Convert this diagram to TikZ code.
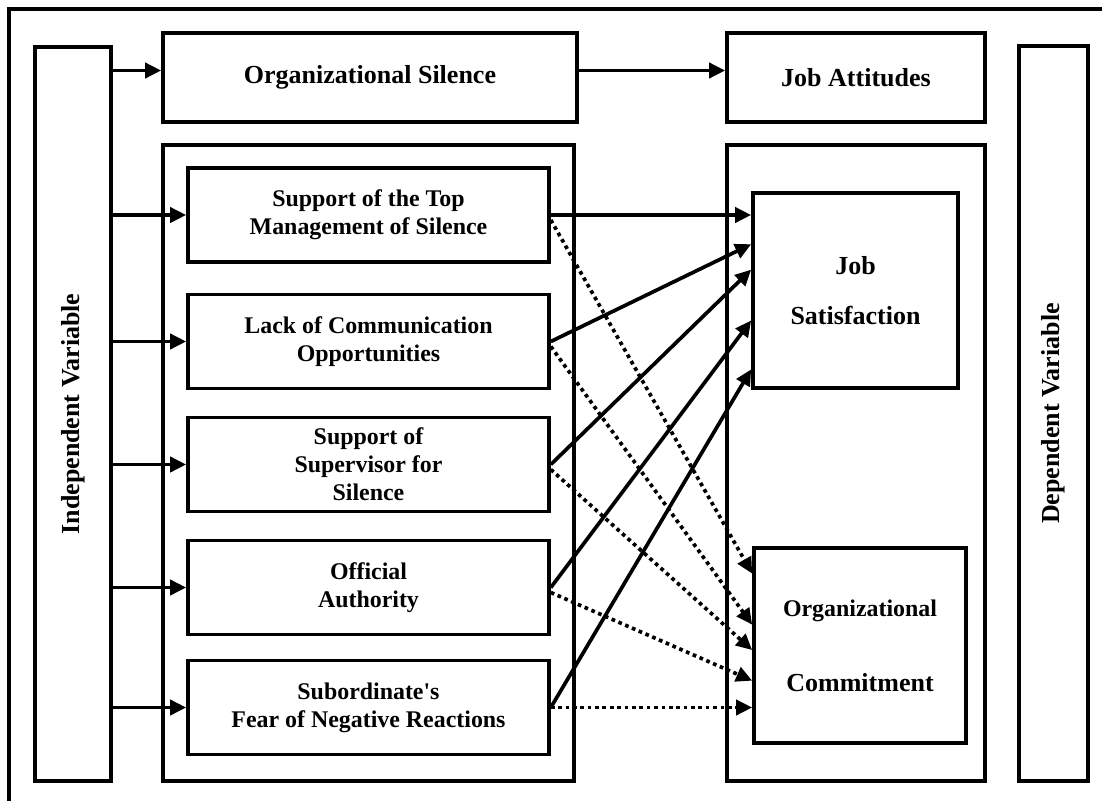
\documentclass[tikz,border=0pt]{standalone}
\usepackage{fontspec}
\setmainfont{Liberation Serif}
\usetikzlibrary{arrows.meta,calc}
\tikzset{
  box/.style={draw,line width=2.1pt,align=center,inner sep=2pt},
  headbox/.style={box,font=\bfseries\fontsize{14.8}{17}\selectfont},
  groupbox/.style={box,minimum height=12.72cm},
  factorbox/.style={box,minimum width=7.22cm,minimum height=1.88cm,
    font=\bfseries\fontsize{13.6}{15.9}\selectfont},
  outcomebox/.style={box,minimum height=3.9cm,
    font=\bfseries\fontsize{14.8}{17}\selectfont},
  arrow/.style={-{Triangle[length=0.32cm,width=0.3cm]},line width=2.1pt},
  dotarrow/.style={arrow,dash pattern=on 2.1pt off 2.1pt}
}

\begin{document}
\begin{tikzpicture}[x=0.02cm,y=-0.02cm]
  \useasboundingbox (0,0) rectangle (1102,801);
  % open frame
  \draw[line width=2.1pt] (1102,9) -- (9,9) -- (9,801);

  % side columns
  \node[box,minimum width=1.52cm,minimum height=14.68cm] (iv) at (73,414) {};
  \node[headbox,draw=none,rotate=90] (ivlabel) at (iv) {Independent Variable};
  \node[box,minimum width=1.38cm,minimum height=14.7cm] (dv) at (1053.5,413.5) {};
  \node[headbox,draw=none,rotate=90] (dvlabel) at (dv) {Dependent Variable};

  % headings
  \node[headbox,minimum width=8.28cm,minimum height=1.78cm] (silence) at (370,77.5)
    {Organizational Silence};
  \node[headbox,minimum width=5.16cm,minimum height=1.78cm] (attitudes) at (856,77.5)
    {Job Attitudes};

  % groups
  \node[groupbox,minimum width=8.22cm] (causes) at (368.5,463) {};
  \node[groupbox,minimum width=5.16cm] (outcomes) at (856,463) {};

  % silence factors
  \node[factorbox] (f1) at (368.5,215) {Support of the Top\\Management of Silence};
  \node[factorbox] (f2) at (368.5,341.5) {Lack of Communication\\Opportunities};
  \node[factorbox] (f3) at (368.5,464.5) {Support of\\Supervisor for\\Silence};
  \node[factorbox] (f4) at (368.5,587.5) {Official\\Authority};
  \node[factorbox] (f5) at (368.5,707.5)
    {Subordinate\textquotesingle s\\Fear of Negative Reactions};

  % attitudes
  \node[outcomebox,minimum width=4.1cm] (js) at (855.5,290.5) {Job\\[0.4cm]Satisfaction};
  \node[outcomebox,minimum width=4.24cm] (oc) at (860,645.5)
    {{\fontsize{13.6}{16}\selectfont Organizational}\\[0.9cm]Commitment};

  % top row
  \coordinate (silin) at ([yshift=0.14cm]silence.west);
  \draw[arrow] (iv.east |- silin) -- (silin);
  \draw[arrow] (silence.east |- silin) -- (attitudes.west |- silin);

  % independent variable to each factor
  \foreach \f in {f1,f2,f3,f4,f5}
    \draw[arrow] (iv.east |- \f.west) -- (\f.west);

  % factors to job satisfaction
  \draw[arrow] (f1.east) -- (js.west |- f1.east);
  \foreach \f/\t in {f2/0.267,f3/0.395,f4/0.651,f5/0.897}
    \draw[arrow] (\f.east) -- ($(js.north west)!\t!(js.south west)$);

  % factors to organizational commitment
  \foreach \f/\t in {f1/0.138,f2/0.395,f3/0.523,f4/0.677}
    \draw[dotarrow] ([yshift=-0.1cm]\f.east) -- ($(oc.north west)!\t!(oc.south west)$);
  \draw[dotarrow] (f5.east) -- (oc.west |- f5.east);
\end{tikzpicture}
\end{document}
